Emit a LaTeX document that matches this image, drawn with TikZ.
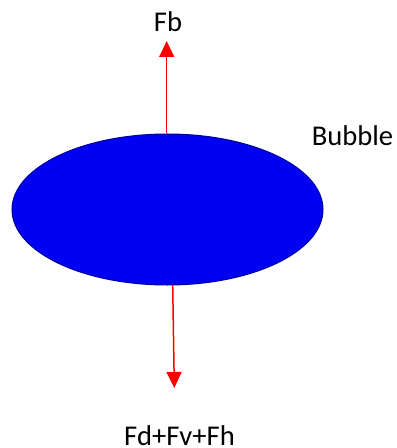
\documentclass[tikz,border=0pt]{standalone}
\usepackage{fontspec}
\setmainfont{Carlito}
\usepackage{xcolor}
\usetikzlibrary{positioning, arrows.meta, shapes.geometric}
\definecolor{bubblefill}{HTML}{0000F2}
\definecolor{bubbleedge}{HTML}{00009E}
\definecolor{forcered}  {HTML}{FF0000}

\begin{document}
\begin{tikzpicture}[x=0.5pt, y=-0.5pt,
    force/.style={draw=forcered, line width=0.75pt,
                  -{Triangle[width=7.5pt, length=8pt]}},
    lbl/.style={font=\fontsize{14.3}{17}\selectfont, text=black,
                inner sep=0pt, anchor=base}]
  \useasboundingbox (0,0) rectangle (396,448);
  \node[ellipse, fill=bubblefill, draw=bubbleedge, line width=0.5pt,
        minimum width=155.5pt, minimum height=75.5pt, inner sep=0pt]
    (bubble) at (167.5,209.5) {};
  \coordinate (fbtip)  at (166.7,41);
  \coordinate (fdbase) at (172.7,285);
  \coordinate (fdtip)  at (174.3,388);
  \draw[force] (bubble.north -| fbtip) -- (fbtip);
  \draw[force] (fdbase) -- (fdtip);
  \node[lbl] (fb)   at (168,32)    {Fb};
  \node[lbl] (name) at (352.5,146) {Bubble};
  \node[lbl] (fsum) at (179.5,445) {Fd+Fv+Fh};
\end{tikzpicture}
\end{document}
